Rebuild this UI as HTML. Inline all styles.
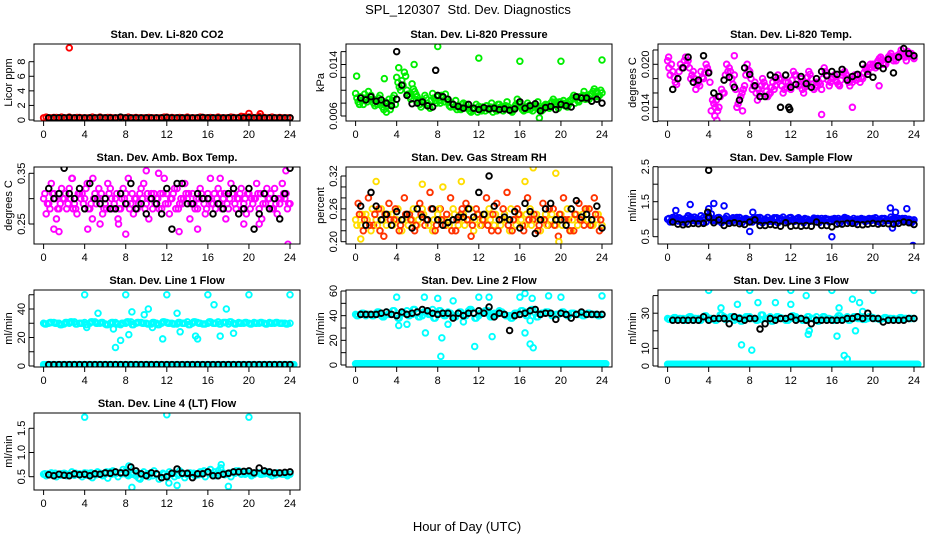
<!DOCTYPE html>
<html><head><meta charset="utf-8"><style>
html,body{margin:0;padding:0;background:#fff}
svg{display:block;font-family:"Liberation Sans",sans-serif}
</style></head><body>
<svg id="chart" width="936" height="540" viewBox="0 0 936 540">
<text x="468" y="14" text-anchor="middle" font-size="13">SPL_120307&#160; Std. Dev. Diagnostics</text>
<text x="467" y="531" text-anchor="middle" font-size="13">Hour of Day (UTC)</text>
</svg>
<script>
// ---- data arrays (A: x=0..24 step .5; B: x=.25 step .5; C: x=.125 step .5; D: x=.375 step .5; K black: x=.5 step .5)
const xTicks=[0,4,8,12,16,20,24];
const co2A=[0.3,0.3,0.35,0.3,0.3,0.4,0.3,0.35,0.3,0.3,0.3,0.4,0.3,0.35,0.3,0.3,0.3,0.3,0.35,0.3,0.3,0.3,0.3,0.3,0.4,0.35,0.3,0.3,0.4,0.3,0.3,0.35,0.3,0.3,0.4,0.3,0.3,0.35,0.3,0.45,0.4,0.3,0.5,0.35,0.3,0.3,0.35,0.3,0.3];
const co2B=[0.4,0.3,0.35,0.4,0.3,0.3,0.35,0.3,0.3,0.4,0.3,0.3,0.35,0.3,0.3,0.3,0.4,0.3,0.3,0.3,0.35,0.3,0.3,0.4,0.3,0.3,0.35,0.3,0.3,0.3,0.4,0.3,0.35,0.3,0.3,0.3,0.4,0.3,0.5,0.3,0.4,0.35,0.3,0.3,0.4,0.3,0.3,0.3];
const co2K=[0.3,0.3,0.3,0.3,0.35,0.3,0.3,0.3,0.3,0.3,0.35,0.3,0.3,0.3,0.4,0.3,0.3,0.3,0.3,0.3,0.3,0.3,0.3,0.35,0.3,0.3,0.3,0.3,0.3,0.3,0.35,0.3,0.3,0.3,0.3,0.3,0.3,0.3,0.3,0.35,0.3,0.3,0.3,0.3,0.3,0.3,0.3,0.3];
const co2Out=[[2.5,9.9],[20,0.9],[21.1,0.85]];
const prA=[0.0095,0.0090,0.0088,0.0092,0.0085,0.0080,0.0075,0.0082,0.0120,0.0115,0.0100,0.0110,0.0090,0.0085,0.0080,0.0095,0.0090,0.0088,0.0082,0.0078,0.0075,0.0080,0.0072,0.0070,0.0075,0.0072,0.0070,0.0074,0.0078,0.0072,0.0070,0.0075,0.0080,0.0074,0.0070,0.0076,0.0072,0.0078,0.0080,0.0082,0.0078,0.0080,0.0085,0.0088,0.0090,0.0092,0.0095,0.0098,0.0096];
const prB=[0.0082,0.0078,0.0098,0.0080,0.0088,0.0070,0.0086,0.0092,0.0105,0.0128,0.0090,0.0098,0.0078,0.0092,0.0072,0.0084,0.0080,0.0094,0.0074,0.0084,0.0070,0.0078,0.0066,0.0078,0.0068,0.0076,0.0080,0.0068,0.0072,0.0082,0.0066,0.0086,0.0070,0.0080,0.0068,0.0082,0.0070,0.0074,0.0086,0.0072,0.0084,0.0078,0.0092,0.0082,0.0098,0.0086,0.0102,0.0092];
const prC=[0.0088,0.0084,0.0082,0.0086,0.0078,0.0074,0.0080,0.0088,0.0112,0.0108,0.0094,0.0102,0.0084,0.0080,0.0076,0.0088,0.0084,0.0082,0.0076,0.0074,0.0072,0.0074,0.0068,0.0072,0.0070,0.0068,0.0074,0.0070,0.0074,0.0076,0.0068,0.0078,0.0074,0.0070,0.0072,0.0074,0.0068,0.0076,0.0082,0.0076,0.0080,0.0074,0.0088,0.0084,0.0092,0.0088,0.0098,0.0090];
const prD=[0.0078,0.0094,0.0086,0.0076,0.0092,0.0082,0.0070,0.0078,0.0100,0.0122,0.0086,0.0094,0.0074,0.0088,0.0084,0.0080,0.0092,0.0086,0.0080,0.0070,0.0078,0.0072,0.0070,0.0066,0.0074,0.0072,0.0066,0.0078,0.0068,0.0074,0.0072,0.0080,0.0068,0.0076,0.0074,0.0070,0.0076,0.0072,0.0078,0.0082,0.0076,0.0084,0.0080,0.0090,0.0086,0.0094,0.0090,0.0100];
const prK=[0.0088,0.0085,0.0090,0.0083,0.0085,0.0080,0.0076,0.0086,0.0108,0.0092,0.0079,0.0080,0.0082,0.0076,0.0074,0.0092,0.0090,0.0086,0.0078,0.0075,0.0072,0.0078,0.0072,0.0070,0.0073,0.0071,0.0072,0.0070,0.0071,0.0069,0.0071,0.0082,0.0072,0.0076,0.0079,0.0068,0.0073,0.0075,0.0070,0.0078,0.0076,0.0074,0.0090,0.0088,0.0088,0.0083,0.0086,0.0080];
const prOut=[[0.1,0.0122],[2.8,0.0118],[8,0.0168],[12,0.0150],[16,0.0145],[20,0.0145],[24,0.0147],[17.9,0.0057],[3,0.0066],[4.2,0.0135],[5.7,0.0140]];
const tpA=[0.0205,0.0190,0.0180,0.0195,0.0205,0.0190,0.0175,0.0180,0.0190,0.0145,0.0140,0.0160,0.0195,0.0185,0.0150,0.0170,0.0190,0.0175,0.0160,0.0170,0.0160,0.0170,0.0180,0.0175,0.0165,0.0185,0.0180,0.0170,0.0180,0.0175,0.0165,0.0185,0.0180,0.0175,0.0185,0.0180,0.0175,0.0185,0.0180,0.0190,0.0200,0.0205,0.0200,0.0210,0.0205,0.0210,0.0215,0.0212,0.0208];
const tpB=[0.0185,0.0175,0.0200,0.0210,0.0180,0.0165,0.0190,0.0200,0.0135,0.0150,0.0165,0.0200,0.0180,0.0140,0.0160,0.0200,0.0165,0.0150,0.0180,0.0155,0.0175,0.0185,0.0160,0.0175,0.0190,0.0170,0.0160,0.0190,0.0165,0.0175,0.0195,0.0170,0.0185,0.0170,0.0190,0.0170,0.0185,0.0175,0.0195,0.0200,0.0195,0.0210,0.0200,0.0215,0.0205,0.0220,0.0205,0.0215];
const tpC=[0.0195,0.0182,0.0190,0.0205,0.0195,0.0180,0.0170,0.0188,0.0175,0.0140,0.0155,0.0185,0.0190,0.0165,0.0155,0.0185,0.0180,0.0160,0.0170,0.0162,0.0168,0.0178,0.0170,0.0168,0.0178,0.0178,0.0165,0.0182,0.0172,0.0170,0.0180,0.0178,0.0182,0.0172,0.0188,0.0175,0.0180,0.0180,0.0188,0.0195,0.0198,0.0208,0.0202,0.0212,0.0208,0.0215,0.0210,0.0214];
const tpD=[0.0200,0.0172,0.0195,0.0200,0.0185,0.0172,0.0182,0.0195,0.0150,0.0135,0.0160,0.0190,0.0172,0.0145,0.0165,0.0192,0.0170,0.0165,0.0175,0.0158,0.0165,0.0180,0.0165,0.0170,0.0185,0.0172,0.0168,0.0186,0.0168,0.0172,0.0190,0.0175,0.0178,0.0178,0.0186,0.0178,0.0178,0.0182,0.0192,0.0196,0.0202,0.0206,0.0206,0.0210,0.0212,0.0212,0.0218,0.0210];
const tpK=[0.0165,0.0180,0.0195,0.0210,0.0175,0.0178,0.0212,0.0188,0.0160,0.0155,0.0178,0.0182,0.0168,0.0150,0.0195,0.0186,0.0170,0.0155,0.0155,0.0185,0.0182,0.0140,0.0185,0.0168,0.0172,0.0183,0.0173,0.0168,0.0180,0.0190,0.0184,0.0190,0.0186,0.0193,0.0178,0.0183,0.0186,0.0200,0.0186,0.0182,0.0198,0.0194,0.0207,0.0188,0.0210,0.0222,0.0215,0.0212];
const tpOut=[[0.1,0.0210],[4.8,0.0122],[15,0.0130],[18,0.0140],[20.6,0.0170],[6.5,0.0212],[4.6,0.0128],[7.3,0.0135]];
const amA=[0.30,0.29,0.31,0.28,0.30,0.32,0.29,0.31,0.30,0.28,0.31,0.30,0.29,0.32,0.30,0.28,0.31,0.29,0.30,0.32,0.29,0.31,0.30,0.28,0.31,0.30,0.32,0.29,0.30,0.31,0.28,0.30,0.31,0.29,0.32,0.30,0.28,0.31,0.30,0.29,0.31,0.30,0.28,0.31,0.30,0.32,0.29,0.30,0.29];
const amB=[0.27,0.33,0.26,0.32,0.28,0.34,0.27,0.31,0.33,0.26,0.30,0.27,0.33,0.28,0.26,0.32,0.34,0.27,0.29,0.33,0.26,0.31,0.28,0.34,0.27,0.32,0.29,0.33,0.26,0.28,0.32,0.27,0.34,0.28,0.31,0.26,0.33,0.28,0.32,0.27,0.30,0.33,0.26,0.32,0.28,0.27,0.33,0.28];
const amC=[0.31,0.28,0.30,0.29,0.31,0.30,0.28,0.30,0.32,0.29,0.29,0.31,0.28,0.30,0.31,0.30,0.29,0.31,0.28,0.30,0.31,0.28,0.30,0.31,0.29,0.31,0.28,0.30,0.31,0.29,0.30,0.29,0.30,0.31,0.29,0.31,0.30,0.29,0.31,0.30,0.28,0.30,0.31,0.29,0.31,0.29,0.30,0.31];
const amD=[0.29,0.31,0.28,0.30,0.29,0.28,0.31,0.29,0.28,0.30,0.32,0.28,0.31,0.29,0.28,0.30,0.28,0.30,0.31,0.28,0.30,0.29,0.31,0.29,0.30,0.28,0.30,0.31,0.29,0.30,0.31,0.28,0.29,0.30,0.28,0.29,0.31,0.30,0.28,0.31,0.29,0.31,0.29,0.30,0.28,0.30,0.31,0.29];
const amK=[0.32,0.30,0.31,0.36,0.31,0.30,0.32,0.28,0.33,0.30,0.29,0.30,0.28,0.28,0.31,0.29,0.33,0.28,0.29,0.27,0.30,0.29,0.27,0.32,0.24,0.33,0.33,0.29,0.29,0.31,0.30,0.30,0.27,0.29,0.28,0.31,0.32,0.27,0.28,0.32,0.24,0.27,0.31,0.28,0.30,0.26,0.31,0.36];
const amOut=[[1,0.24],[1.5,0.235],[4.3,0.24],[5.5,0.25],[7.3,0.25],[8,0.23],[10,0.355],[11.2,0.35],[13.2,0.235],[15,0.24],[17.2,0.34],[19.5,0.25],[21,0.25],[23.8,0.21],[23.6,0.355],[2.8,0.34],[4.8,0.34]];
const rhA=[0.24,0.23,0.25,0.22,0.24,0.26,0.23,0.25,0.24,0.22,0.25,0.24,0.23,0.26,0.24,0.22,0.25,0.23,0.24,0.26,0.23,0.25,0.24,0.22,0.25,0.24,0.26,0.23,0.24,0.25,0.22,0.24,0.25,0.23,0.26,0.24,0.22,0.25,0.24,0.23,0.25,0.24,0.22,0.25,0.24,0.26,0.23,0.24,0.23];
const rhB=[0.27,0.22,0.28,0.23,0.26,0.21,0.27,0.24,0.22,0.28,0.25,0.22,0.27,0.23,0.29,0.22,0.26,0.23,0.28,0.22,0.25,0.27,0.21,0.26,0.23,0.28,0.22,0.27,0.24,0.29,0.22,0.26,0.23,0.28,0.24,0.22,0.27,0.23,0.26,0.21,0.28,0.24,0.22,0.27,0.23,0.26,0.28,0.22];
const rhC=[0.23,0.25,0.24,0.26,0.23,0.24,0.25,0.23,0.26,0.24,0.23,0.26,0.24,0.25,0.23,0.24,0.26,0.24,0.23,0.25,0.24,0.23,0.26,0.24,0.23,0.25,0.24,0.25,0.23,0.24,0.26,0.23,0.24,0.25,0.23,0.25,0.24,0.23,0.25,0.24,0.23,0.26,0.24,0.23,0.25,0.24,0.23,0.25];
const rhD=[0.25,0.24,0.23,0.25,0.22,0.25,0.24,0.26,0.23,0.25,0.24,0.23,0.25,0.24,0.26,0.23,0.24,0.25,0.22,0.24,0.26,0.24,0.23,0.25,0.24,0.23,0.25,0.22,0.26,0.23,0.24,0.25,0.22,0.24,0.25,0.23,0.24,0.26,0.23,0.25,0.24,0.22,0.25,0.24,0.26,0.23,0.25,0.24];
const rhK=[0.265,0.23,0.29,0.265,0.24,0.25,0.23,0.255,0.24,0.25,0.225,0.26,0.245,0.24,0.26,0.24,0.23,0.235,0.24,0.245,0.245,0.26,0.245,0.29,0.25,0.32,0.265,0.24,0.245,0.24,0.255,0.225,0.27,0.255,0.215,0.24,0.26,0.27,0.24,0.24,0.23,0.26,0.275,0.245,0.25,0.24,0.265,0.225];
const rhOut=[[0.5,0.205],[2,0.31],[6.5,0.305],[17.3,0.335],[19.5,0.325],[19.8,0.20],[16.5,0.31],[8.5,0.30],[10.3,0.31]];
const sfA=[1.0,1.05,0.95,1.0,1.1,1.0,0.95,1.05,1.1,1.0,1.05,1.0,0.95,1.0,1.05,1.0,0.95,1.0,1.05,1.0,0.98,1.0,1.02,0.97,1.05,1.0,0.98,1.0,0.96,1.0,1.02,0.98,1.0,0.97,1.0,1.02,0.96,1.0,0.98,1.0,1.02,0.97,1.0,0.98,1.0,1.02,0.97,1.0,0.98];
const sfB=[0.92,1.08,0.98,0.9,1.06,0.94,1.1,0.92,1.15,0.95,0.9,1.08,0.93,1.05,0.9,1.0,0.92,1.04,0.9,1.05,0.93,0.9,1.06,0.92,0.95,1.04,0.9,0.96,1.03,0.9,0.95,0.92,1.02,0.88,1.05,0.92,0.9,1.0,0.93,0.95,1.04,0.9,0.96,1.06,0.92,1.0,0.94,0.9];
const sfC=[1.02,0.98,1.04,0.96,1.0,1.06,0.98,1.0,1.04,0.98,1.0,1.02,0.98,1.02,0.96,1.02,0.98,0.98,1.02,0.96,1.0,1.04,0.96,1.0,0.98,1.02,0.96,1.0,0.98,1.02,0.97,1.0,0.98,1.02,0.96,1.0,1.02,0.96,1.0,1.02,0.98,1.0,1.02,0.96,1.0,0.98,1.02,0.98];
const sfD=[0.96,1.02,0.92,1.04,0.96,1.02,0.92,1.08,0.96,1.04,0.94,0.96,1.04,0.94,1.0,0.94,1.02,0.94,0.98,0.94,1.04,0.96,0.98,1.04,0.94,0.98,1.02,0.94,1.0,0.96,1.02,0.94,0.98,0.96,1.02,0.94,0.98,1.02,0.96,0.98,0.94,1.02,0.96,1.0,0.94,1.02,0.96,0.94];
const sfK=[0.92,0.86,0.84,0.86,0.88,0.87,0.88,1.05,0.90,0.98,0.82,0.88,0.90,0.87,0.85,0.92,0.98,0.82,0.82,0.85,0.83,0.80,0.90,0.80,0.82,0.80,0.82,0.80,0.92,0.82,0.82,0.78,0.86,0.86,0.88,0.88,0.85,0.84,0.86,0.88,0.86,0.88,0.87,0.86,0.88,0.92,0.90,0.85];
const sfOut=[[0.8,1.25],[2.2,1.42],[4,1.3],[4.5,1.45],[5.5,1.38],[8,0.65],[8.3,1.2],[16,0.5],[21.7,1.32],[21.9,0.75],[22.2,1.2],[23.3,1.3],[23.9,0.25]];
const sfKOut=[[4,2.4],[3.9,1.2]];
const l1A=[30,30,30.5,30,29.5,30,31,30,30.5,30,31,30,29.5,30,30.5,29,30,31,30,30.5,30,29.5,30,30,30.5,30,29.5,30,31,30,30.5,29.5,30,30,31,30.5,29.5,30,30.5,30,30,30.5,30,30,30.5,30,30,30,30];
const l1B=[29.5,30.5,30,29,30.5,31,29.5,30,29,31,30,30.5,29,30.5,29.5,30,31,29,30.5,30,29.5,30.5,29,31,30,29.5,30.5,30,29,31,30,29.5,31,30,29.5,30.5,31,29.5,30,30.5,29.5,30,30.5,29.5,30,30.5,30,29.5];
const l1Z=[1,1,1,1,1,1,1,1,1,1,1,1,1,1,1,1,1,1,1,1,1,1,1,1,1,1,1,1,1,1,1,1,1,1,1,1,1,1,1,1,1,1,1,1,1,1,1,1,1];
const l1K=[1,1,1,1,1,1,1,1,1,1,1,1,1,1,1,1,1,1,1,1,1,1,1,1,1,1,1,1,1,1,1,1,1,1,1,1,1,1,1,1,1,1,1,1,1,1,1,1];
const l1Out=[[4,50],[8,50],[12,50],[16,50],[20,50],[24,50],[5.3,37],[7,13],[7.5,18],[8.3,22],[8.6,38],[9.8,36],[10.2,40],[11.6,19],[13,37],[13.3,24],[14.8,21],[15,19],[16.6,43],[17.2,21],[17.8,40],[18.5,23],[6.8,26],[4.2,27],[10.6,27]];
const l2A=[41,41,40,41,42,40,43,41,40,42,44,41,42,40,43,45,42,41,43,40,42,41,44,42,40,43,41,42,44,41,40,42,41,43,44,42,41,43,42,41,42,41,42,41,42,41,41,41,41];
const l2B=[40,42,41,40,43,39,41,44,38,42,40,45,39,43,41,38,44,40,42,39,43,40,45,38,42,44,39,41,43,40,38,42,44,40,45,39,42,43,40,41,43,40,42,41,40,42,41,40];
const l2Z=[1,1,1,1,1,1,1,1,1,1,1,1,1,1,1,1,1,1,1,1,1,1,1,1,1,1,1,1,1,1,1,1,1,1,1,1,1,1,1,1,1,1,1,1,1,1,1,1,1];
const l2K=[41,41,41,41,42,43,41,40,43,41,42,43,45,44,42,41,42,42,38,42,40,42,42,44,42,47,39,42,41,28,40,41,42,44,45,41,42,42,37,42,41,38,41,43,41,41,41,41];
const l2Out=[[4,55],[6.7,55],[8,54],[9.5,52],[12,55],[13,55],[16,55],[16.5,58],[17.2,54],[18.8,56],[20,55],[24,56],[4.2,32],[5,33],[6.8,26],[8.4,22],[8.3,7],[9,33],[11.6,15],[13.3,23],[16.5,26],[17,17],[17.3,14],[12.9,44],[10.5,35],[17,36]];
const l3A=[27,27,26.5,27,27.5,26,27,28,27,26.5,27,28,27,26,27.5,27,28,27,26.5,27,28,27,27.5,26,27,28,27,26.5,27,28,27,27,26.5,27.5,27,28,27,27,26.5,27,27.5,27,27,27,27,27,27,27,27];
const l3B=[26.5,27.5,27,26,28,27,26,28.5,27,26,29,26.5,28,27,25.5,28,27,26,29,27,25.5,28,27,26,28.5,27,26,28,27,25.5,28,27,26,28.5,27,26,28,27,26.5,28,27,26.5,27.5,27,26.5,27.5,27,27];
const l3Z=[1,1,1,1,1,1,1,1,1,1,1,1,1,1,1,1,1,1,1,1,1,1,1,1,1,1,1,1,1,1,1,1,1,1,1,1,1,1,1,1,1,1,1,1,1,1,1,1,1];
const l3K=[26,26,26,26,26,26,28,26,27,27,27,24,28,27,26,27,27,21,24,27,26,27,27,28,26,27,26,24,26,26,26,26,26,26,27,27,28,27,30,27,27,25,26,26,26,26,27,27];
const l3Out=[[4,43],[8,43],[12,43],[16,43],[20,43],[24,43],[5.2,33],[6.8,35],[7.2,12],[8.2,9],[8.8,36],[10.5,36],[12,35],[13.5,40],[13.8,20],[13.7,18],[16.5,17],[16.7,33],[17.2,6],[17.5,4],[18,38],[18.7,36],[18.3,20],[19,31]];
const l4A=[0.55,0.56,0.54,0.55,0.57,0.55,0.53,0.56,0.58,0.55,0.54,0.57,0.55,0.60,0.56,0.58,0.62,0.55,0.52,0.56,0.54,0.58,0.55,0.48,0.52,0.56,0.55,0.58,0.54,0.56,0.55,0.58,0.60,0.54,0.62,0.58,0.56,0.60,0.62,0.58,0.57,0.55,0.58,0.56,0.55,0.57,0.56,0.55,0.55];
const l4B=[0.52,0.58,0.50,0.56,0.52,0.60,0.55,0.50,0.57,0.48,0.60,0.52,0.47,0.62,0.50,0.65,0.52,0.58,0.47,0.60,0.50,0.62,0.45,0.55,0.60,0.50,0.62,0.48,0.58,0.52,0.60,0.50,0.65,0.52,0.68,0.55,0.50,0.62,0.55,0.60,0.52,0.58,0.55,0.60,0.52,0.58,0.55,0.52];
const l4C=[0.56,0.54,0.57,0.53,0.56,0.54,0.57,0.55,0.53,0.58,0.54,0.56,0.60,0.55,0.58,0.56,0.54,0.55,0.57,0.53,0.56,0.52,0.54,0.57,0.54,0.57,0.53,0.56,0.55,0.57,0.54,0.62,0.56,0.60,0.56,0.54,0.58,0.57,0.60,0.55,0.56,0.57,0.55,0.57,0.56,0.54,0.56,0.55];
const l4K=[0.54,0.52,0.55,0.53,0.52,0.56,0.54,0.55,0.52,0.56,0.55,0.58,0.57,0.60,0.58,0.58,0.70,0.62,0.56,0.52,0.58,0.56,0.48,0.50,0.57,0.66,0.57,0.57,0.48,0.56,0.56,0.60,0.52,0.52,0.55,0.57,0.60,0.60,0.61,0.62,0.58,0.68,0.62,0.60,0.58,0.58,0.59,0.60];
const l4Out=[[4,1.73],[12,1.78],[20,1.73],[8.6,0.28],[13,0.32],[18,0.30],[8.3,0.72],[17.3,0.75],[12.2,0.37],[9.4,0.45]];

const NS="http://www.w3.org/2000/svg";
const svg=document.getElementById('chart');
function mk(tag,attrs,parent){const e=document.createElementNS(NS,tag);for(const k in attrs)e.setAttribute(k,attrs[k]);(parent||svg).appendChild(e);return e;}
const lefts=[34,346,658], tops=[44,167,290,413], W=266, H=77;
const panels=[
 {name:'co2',c:0,r:0,title:'Stan. Dev. Li-820 CO2',ylab:'Licor ppm',v1:0,p1:120,v2:8,p2:61.7,ticks:[0,2,4,6,8],labels:['0','2','4','6','8'],col:'#ff0000',A:co2A,B:co2B,C:null,D:null,Z:null,K:co2K,out:co2Out,kout:[]},
 {name:'pressure',c:1,r:0,title:'Stan. Dev. Li-820 Pressure',ylab:'kPa',v1:0.006,p1:116,v2:0.014,p2:64.5,ticks:[0.006,0.008,0.010,0.012,0.014,0.016],labels:['0.006','','','','0.014',''],col:'#00ee00',A:prA,B:prB,C:prC,D:prD,Z:null,K:prK,out:prOut,kout:[[4,0.0160],[7.8,0.0131]]},
 {name:'temp',c:2,r:0,title:'Stan. Dev. Li-820 Temp.',ylab:'degrees C',v1:0.014,p1:107.3,v2:0.020,p2:64.3,ticks:[0.012,0.014,0.016,0.018,0.020,0.022],labels:['','0.014','','','0.020',''],col:'#ff00ff',A:tpA,B:tpB,C:tpC,D:tpD,Z:null,K:tpK,out:tpOut,kout:[[11.8,0.0140],[11.9,0.0137]]},
 {name:'amb-box-temp',c:0,r:1,title:'Stan. Dev. Amb. Box Temp.',ylab:'degrees C',v1:0.25,p1:224,v2:0.35,p2:173.3,ticks:[0.25,0.30,0.35],labels:['0.25','','0.35'],col:'#ff00ff',A:amA,B:amB,C:amC,D:amD,Z:null,K:amK,out:amOut,kout:[]},
 {name:'gas-stream-rh',c:1,r:1,title:'Stan. Dev. Gas Stream RH',ylab:'percent',v1:0.20,p1:241.7,v2:0.32,p2:176,ticks:[0.20,0.22,0.24,0.26,0.28,0.30,0.32],labels:['0.20','','','0.26','','','0.32'],col:'#ffdd00',col2:'#ff3300',A:rhA,B:rhB,C:rhC,D:rhD,Z:null,K:rhK,out:rhOut,kout:[]},
 {name:'sample-flow',c:2,r:1,title:'Stan. Dev. Sample Flow',ylab:'ml/min',v1:0.5,p1:236.7,v2:2.5,p2:166.7,ticks:[0.5,1.0,1.5,2.0,2.5],labels:['0.5','','1.5','','2.5'],col:'#0000ff',A:sfA,B:sfB,C:sfC,D:sfD,Z:null,K:sfK,out:sfOut,kout:sfKOut},
 {name:'line1-flow',c:0,r:2,title:'Stan. Dev. Line 1 Flow',ylab:'ml/min',v1:0,p1:366,v2:40,p2:309,ticks:[0,10,20,30,40,50],labels:['0','','20','','40',''],col:'#00ffff',A:l1A,B:l1B,C:l1B,D:null,Z:l1Z,K:l1K,out:l1Out,kout:[]},
 {name:'line2-flow',c:1,r:2,title:'Stan. Dev. Line 2 Flow',ylab:'ml/min',v1:0,p1:365,v2:60,p2:291,ticks:[0,10,20,30,40,50,60],labels:['0','','20','','40','','60'],col:'#00ffff',A:l2A,B:l2B,C:l2B,D:null,Z:l2Z,K:l2K,out:l2Out,kout:[]},
 {name:'line3-flow',c:2,r:2,title:'Stan. Dev. Line 3 Flow',ylab:'ml/min',v1:0,p1:366,v2:40,p2:295.6,ticks:[0,10,20,30,40],labels:['0','10','','30',''],col:'#00ffff',A:l3A,B:l3B,C:l3B,D:null,Z:l3Z,K:l3K,out:l3Out,kout:[]},
 {name:'line4-flow',c:0,r:3,title:'Stan. Dev. Line 4 (LT) Flow',ylab:'ml/min',v1:0.5,p1:476.7,v2:1.5,p2:428.3,ticks:[0.5,1.0,1.5],labels:['0.5','1.0','1.5'],col:'#00ffff',A:l4A,B:l4B,C:l4C,D:null,Z:null,K:l4K,out:l4Out,kout:[]}
];
panels.forEach(p=>{
  const L=lefts[p.c], T=tops[p.r];
  const g=mk('g',{});
  
  
  const xs=v=>L+9.6+v*(246.4/24);
  const ys=v=>p.p1+(v-p.v1)*(p.p2-p.p1)/(p.v2-p.v1);
  const clip='clip-'+p.name;
  const cp=mk('clipPath',{id:clip},g); mk('rect',{x:L,y:T,width:W,height:H},cp);
  const t=mk('text',{x:L+W/2,y:T-6,'text-anchor':'middle','font-size':'11','font-weight':'bold'},g); t.textContent=p.title;
   
  const yl=mk('text',{x:0,y:0,'text-anchor':'middle','font-size':'11',transform:`translate(${L-22},${T+H/2}) rotate(-90)`},g); yl.textContent=p.ylab;
   
  p.ticks.forEach((v,i)=>{const y=ys(v);
    mk('line',{x1:L-5,x2:L,y1:y,y2:y,stroke:'#000','stroke-width':1},g);
    if(p.labels[i]){const tl=mk('text',{x:0,y:0,'text-anchor':'middle','font-size':'11',transform:`translate(${L-9},${y}) rotate(-90)`},g);tl.textContent=p.labels[i];
       }
  });
  mk('line',{x1:L-5,x2:L-5,y1:ys(p.ticks[0]),y2:ys(p.ticks[p.ticks.length-1]),stroke:'#000'},g);
  xTicks.forEach(v=>{const x=xs(v);
    mk('line',{x1:x,x2:x,y1:T+H,y2:T+H+5,stroke:'#000'},g);
    const tl=mk('text',{x:x,y:T+H+17,'text-anchor':'middle','font-size':'11'},g);tl.textContent=v;
     
  });
  const pg=mk('g',{'clip-path':`url(#${clip})`,fill:'none','stroke-width':1.9},g);
   
  const dot=(x,y,c)=>{const e=mk('circle',{cx:xs(x),cy:ys(y),r:2.8,stroke:c},pg);
     };
  if(p.Z) p.Z.forEach((v,i)=>{dot(i*0.5,v,p.col);dot(i*0.5+0.125,v,p.col);dot(i*0.5+0.25,v,p.col);dot(i*0.5+0.375,v,p.col);});
  p.A.forEach((v,i)=>dot(i*0.5,v,p.col));
  p.B.forEach((v,i)=>dot(i*0.5+0.25,v,p.col2||p.col));
  if(p.C) p.C.forEach((v,i)=>dot(i*0.5+0.125,v,p.col));
  if(p.D) p.D.forEach((v,i)=>dot(i*0.5+0.375,v,p.col2||p.col));
  p.out.forEach(d=>dot(d[0],d[1],p.col));
  p.K.forEach((v,i)=>dot((i+1)*0.5,v,'#000'));
  p.kout.forEach(d=>dot(d[0],d[1],'#000'));
  const box=mk('rect',{x:L,y:T,width:W,height:H,fill:'none',stroke:'#000','stroke-width':1},g);
   
});
</script>
</body></html>
